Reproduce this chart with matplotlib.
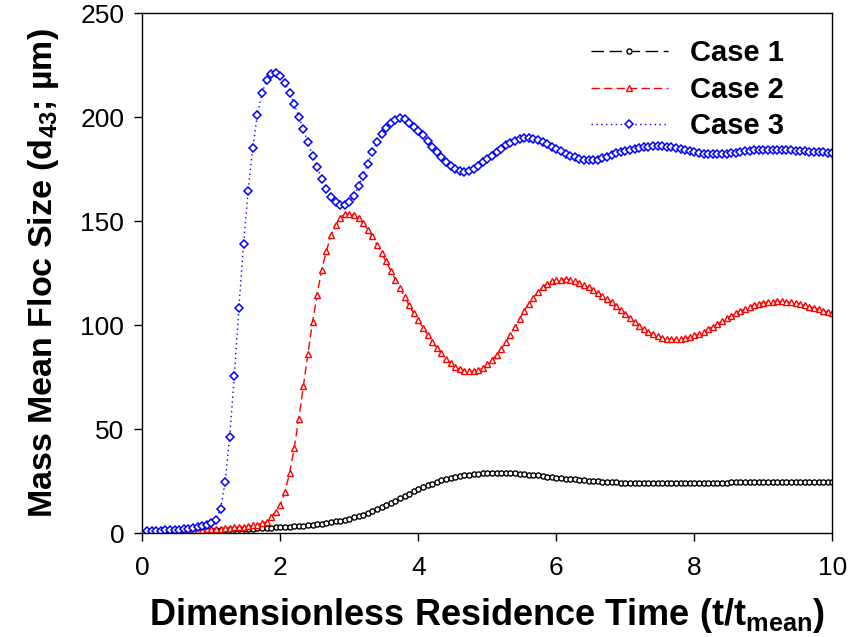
import numpy as np
import matplotlib
matplotlib.use("Agg")
import matplotlib.pyplot as plt

plt.rcParams['font.family'] = ['Liberation Sans', 'DejaVu Sans']
plt.rcParams['mathtext.fontset'] = 'custom'
plt.rcParams['mathtext.rm'] = 'Liberation Sans:bold'
plt.rcParams['mathtext.bf'] = 'Liberation Sans:bold'
plt.rcParams['mathtext.default'] = 'regular'

# sampling grid (dimensionless time), 150 samples
t = np.arange(1, 151) / 15.0

case1 = [1.0, 1.0, 1.0, 1.1, 1.1, 1.1, 1.2, 1.2, 1.3, 1.3,
         1.4, 1.4, 1.5, 1.5, 1.6, 1.7, 1.7, 1.8, 1.9, 2.0,
         2.0, 2.1, 2.2, 2.3, 2.4, 2.5, 2.6, 2.7, 2.8, 2.9,
         3.0, 3.1, 3.3, 3.5, 3.7, 3.9, 4.1, 4.4, 4.7, 5.0,
         5.3, 5.7, 6.1, 6.6, 7.1, 7.7, 8.3, 9.0, 9.8, 10.6,
         11.5, 12.5, 13.5, 14.6, 15.7, 16.8, 17.9, 19.0, 20.1, 21.1,
         22.1, 23.0, 23.9, 24.7, 25.4, 26.0, 26.6, 27.1, 27.5, 27.9,
         28.2, 28.5, 28.7, 28.9, 29.0, 29.0, 29.1, 29.0, 29.0, 28.9,
         28.8, 28.6, 28.4, 28.2, 28.0, 27.8, 27.5, 27.3, 27.0, 26.8,
         26.6, 26.3, 26.1, 25.9, 25.7, 25.5, 25.3, 25.1, 25.0, 24.8,
         24.7, 24.6, 24.5, 24.4, 24.4, 24.3, 24.3, 24.2, 24.2, 24.2,
         24.2, 24.2, 24.2, 24.2, 24.2, 24.2, 24.2, 24.3, 24.3, 24.3,
         24.3, 24.3, 24.4, 24.4, 24.4, 24.4, 24.4, 24.5, 24.5, 24.5,
         24.5, 24.5, 24.6, 24.6, 24.6, 24.6, 24.6, 24.7, 24.7, 24.7,
         24.7, 24.7, 24.7, 24.8, 24.8, 24.8, 24.8, 24.8, 24.8, 24.8]

case2 = [1.0, 1.0, 1.1, 1.1, 1.2, 1.2, 1.3, 1.3, 1.4, 1.5,
         1.6, 1.7, 1.8, 1.9, 2.0, 2.1, 2.3, 2.4, 2.6, 2.8,
         3.0, 3.2, 3.5, 3.8, 4.2, 4.8, 5.6, 8.0, 10.4, 13.6,
         20.0, 28.8, 40.8, 54.8, 70.7, 86.4, 101.6, 114.8, 126.7, 135.6,
         143.2, 148.4, 151.6, 153.5, 153.7, 153.0, 151.5, 149.1, 146.0, 142.7,
         138.7, 134.8, 130.7, 126.3, 121.9, 117.9, 113.8, 109.6, 105.8, 102.4,
         98.8, 95.5, 92.2, 89.2, 86.5, 84.0, 81.9, 80.0, 78.8, 78.1,
         77.9, 77.9, 78.4, 79.5, 81.2, 83.3, 85.9, 88.8, 92.0, 95.5,
         99.2, 103.2, 107.0, 110.4, 113.2, 116.0, 118.2, 120.0, 121.1, 121.9,
         122.0, 122.1, 122.0, 121.3, 120.4, 119.4, 118.2, 117.0, 115.6, 114.2,
         112.8, 111.0, 109.2, 107.3, 105.3, 103.4, 101.5, 99.8, 98.2, 96.9,
         95.7, 94.8, 94.0, 93.5, 93.2, 93.2, 93.4, 93.8, 94.4, 95.1,
         95.9, 96.9, 98.1, 99.4, 100.7, 102.0, 103.3, 104.6, 105.8, 106.9,
         107.9, 108.8, 109.7, 110.4, 110.9, 111.2, 111.4, 111.5, 111.5, 111.3,
         111.0, 110.6, 110.1, 109.6, 109.0, 108.4, 107.8, 107.1, 106.5, 105.9]

case3 = [1.0, 1.1, 1.2, 1.3, 1.4, 1.5, 1.6, 1.8, 2.0, 2.2,
         2.5, 2.9, 3.4, 4.1, 5.0, 6.5, 11.8, 24.5, 46.5, 75.5,
         108.5, 139.0, 164.7, 185.4, 201.0, 211.5, 217.8, 221.0, 221.5, 220.0,
         216.5, 211.9, 206.4, 200.3, 194.3, 187.9, 181.6, 175.9, 170.4, 165.6,
         161.9, 159.1, 158.0, 157.8, 159.4, 162.4, 166.9, 172.0, 177.5, 183.4,
         188.2, 192.0, 195.0, 197.3, 198.9, 199.5, 199.1, 197.5, 195.5, 193.5,
         191.4, 188.8, 185.9, 183.2, 180.8, 178.6, 176.6, 175.0, 174.1, 173.8,
         174.1, 175.0, 176.6, 178.3, 179.8, 181.4, 183.2, 184.9, 186.6, 187.8,
         188.8, 189.4, 189.9, 190.1, 189.8, 189.1, 188.2, 187.1, 185.9, 184.7,
         183.6, 182.4, 181.4, 180.7, 180.0, 179.6, 179.4, 179.4, 179.7, 180.3,
         181.1, 181.9, 182.7, 183.4, 184.0, 184.5, 184.9, 185.4, 185.7, 185.9,
         186.1, 186.1, 186.0, 185.8, 185.5, 185.1, 184.6, 184.1, 183.6, 183.2,
         182.8, 182.5, 182.3, 182.2, 182.2, 182.3, 182.5, 182.7, 183.0, 183.3,
         183.6, 183.9, 184.1, 184.3, 184.4, 184.5, 184.5, 184.5, 184.4, 184.3,
         184.2, 184.0, 183.8, 183.6, 183.5, 183.3, 183.2, 183.1, 183.0, 182.9]

labels = ['Case 1', 'Case 2', 'Case 3']

fig = plt.figure(figsize=(8.61, 6.37), dpi=100)
ax = fig.add_axes([0.1653, 0.1628, 0.8014, 0.8163])

ax.plot(t, case1, color='black', linestyle=(0, (9, 4)), linewidth=1.0,
        marker='o', markersize=3.7, markerfacecolor='white',
        markeredgecolor='black', markeredgewidth=1.0, label=labels[0])
ax.plot(t, case2, color='red', linestyle=(0, (6, 3)), linewidth=1.0,
        marker='^', markersize=4.8, markerfacecolor='white',
        markeredgecolor='red', markeredgewidth=1.0, label=labels[1])
ax.plot(t, case3, color='blue', linestyle=(0, (1, 2.5)), linewidth=1.0,
        marker='D', markersize=4.0, markerfacecolor='white',
        markeredgecolor='blue', markeredgewidth=1.1, label=labels[2])

ax.set_xlim(0, 10)
ax.set_ylim(0, 250)
ax.set_xticks([0, 2, 4, 6, 8, 10])
ax.set_yticks([0, 50, 100, 150, 200, 250])
ax.tick_params(direction='out', length=6, width=1, labelsize=19)
ax.tick_params(axis='x', pad=10)
ax.tick_params(axis='y', pad=7)
for s in ax.spines.values():
    s.set_linewidth(1.0)

ax.set_xlabel('Dimensionless Residence Time (t/t$_{mean}$)',
              fontsize=26, fontweight='bold', labelpad=12)
ax.set_ylabel('Mass Mean Floc Size (d$_{43}$; \u00b5m)',
              fontsize=24.5, fontweight='bold', labelpad=14)

leg = ax.legend(loc='upper left', bbox_to_anchor=(0.650, 0.950),
                frameon=False, borderpad=0, borderaxespad=0,
                handlelength=2.65, handletextpad=0.75, labelspacing=0.29,
                numpoints=1, prop={'weight': 'bold', 'size': 21})

fig.savefig('out.png', dpi=100)
